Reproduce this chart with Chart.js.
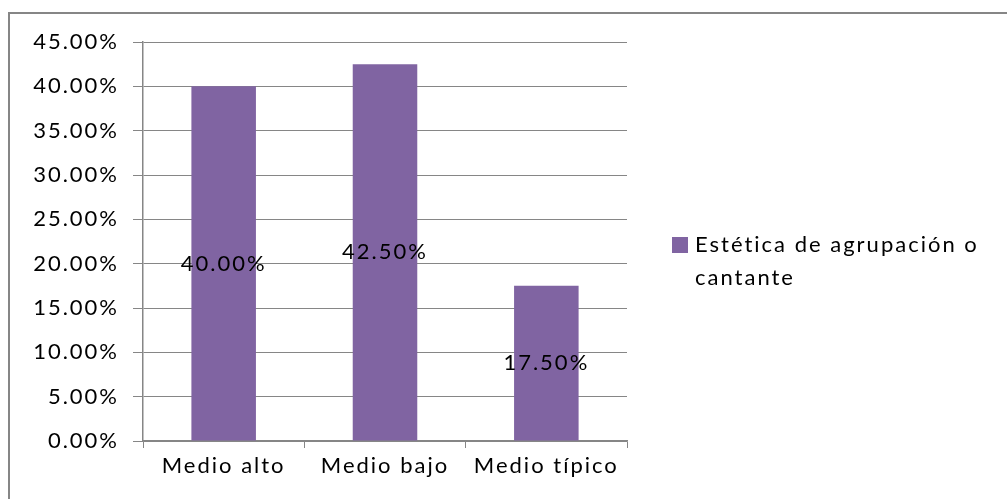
<!DOCTYPE html>
<html>
<head>
<meta charset="utf-8">
<script src="https://cdn.jsdelivr.net/npm/chart.js@4/dist/chart.umd.min.js"></script>
<style>
  html, body { margin: 0; padding: 0; background: #fff; }
</style>
</head>
<body>
<canvas id="myChart" width="1007" height="499"></canvas>
<script>
// Categories and values
const categories = ['Medio alto', 'Medio bajo', 'Medio típico'];
const values = [0.40, 0.425, 0.175];
const seriesName = 'Estética de agrupación o cantante';
const legendLines = ['Estética de agrupación o', 'cantante'];
const yTicks = [0, 0.05, 0.10, 0.15, 0.20, 0.25, 0.30, 0.35, 0.40, 0.45];

const purple = '#8064A2';
const gray = '#868686';
const fontFamily = 'Lato';
const fontSize = 22;
const spacing = '2px';

const pct = v => (v * 100).toFixed(2) + '%';

// Wide letter spacing, like the stretched original
const spacingPlugin = {
    id: 'spacing',
    beforeLayout(chart) { chart.ctx.letterSpacing = spacing; },
    beforeDraw(chart) {
        const ctx = chart.ctx;
        ctx.letterSpacing = spacing;
        // outer frame (top and left edges are visible)
        ctx.save();
        ctx.strokeStyle = gray;
        ctx.lineWidth = 2;
        ctx.beginPath();
        ctx.moveTo(1007, 13);
        ctx.lineTo(9, 13);
        ctx.lineTo(9, 499);
        ctx.stroke();
        ctx.restore();
    }
};

// Value labels in the middle of each bar
const barLabels = {
    id: 'barLabels',
    afterDatasetsDraw(chart) {
        const ctx = chart.ctx;
        const meta = chart.getDatasetMeta(0);
        ctx.save();
        ctx.font = fontSize + 'px ' + fontFamily;
        ctx.fillStyle = '#000';
        ctx.textAlign = 'center';
        ctx.textBaseline = 'middle';
        meta.data.forEach((bar, i) => {
            ctx.fillText(pct(values[i]), bar.x, (bar.y + bar.base) / 2);
        });
        ctx.restore();
    }
};

// Legend on the right, wrapped over two lines
const sideLegend = {
    id: 'sideLegend',
    afterDraw(chart) {
        const ctx = chart.ctx;
        ctx.save();
        ctx.fillStyle = purple;
        ctx.fillRect(672, 237, 16, 16);
        ctx.font = fontSize + 'px ' + fontFamily;
        ctx.fillStyle = '#000';
        ctx.textAlign = 'left';
        ctx.textBaseline = 'middle';
        legendLines.forEach((line, i) => {
            ctx.fillText(line, 695, 245 + i * 33);
        });
        ctx.restore();
    }
};

const ctx = document.getElementById('myChart').getContext('2d');

new Chart(ctx, {
    type: 'bar',
    data: {
        labels: categories,
        datasets: [{
            label: seriesName,
            data: values,
            backgroundColor: purple,
            borderWidth: 0,
            barPercentage: 0.4,
            categoryPercentage: 1.0
        }]
    },
    options: {
        responsive: false,
        animation: false,
        layout: {
            padding: { top: 42, right: 380, left: 0, bottom: 0 }
        },
        plugins: {
            legend: { display: false },
            tooltip: { enabled: false },
            title: { display: false }
        },
        scales: {
            x: {
                afterFit: scale => { scale.height = 58; },
                grid: {
                    drawOnChartArea: false,
                    drawTicks: true,
                    tickLength: 7,
                    color: gray
                },
                border: { display: true, color: gray, width: 1.5 },
                ticks: {
                    color: '#000',
                    padding: 5,
                    font: { family: fontFamily, size: fontSize }
                }
            },
            y: {
                min: 0,
                max: 0.45,
                afterFit: scale => { scale.width = 143; },
                afterBuildTicks: scale => {
                    scale.ticks = yTicks.map(v => ({ value: v }));
                },
                grid: {
                    color: gray,
                    lineWidth: 1,
                    tickLength: 10
                },
                border: { display: true, color: gray, width: 1.5 },
                ticks: {
                    color: '#000',
                    padding: 14,
                    font: { family: fontFamily, size: fontSize },
                    callback: v => pct(v)
                }
            }
        }
    },
    plugins: [spacingPlugin, barLabels, sideLegend]
});
</script>
</body>
</html>
